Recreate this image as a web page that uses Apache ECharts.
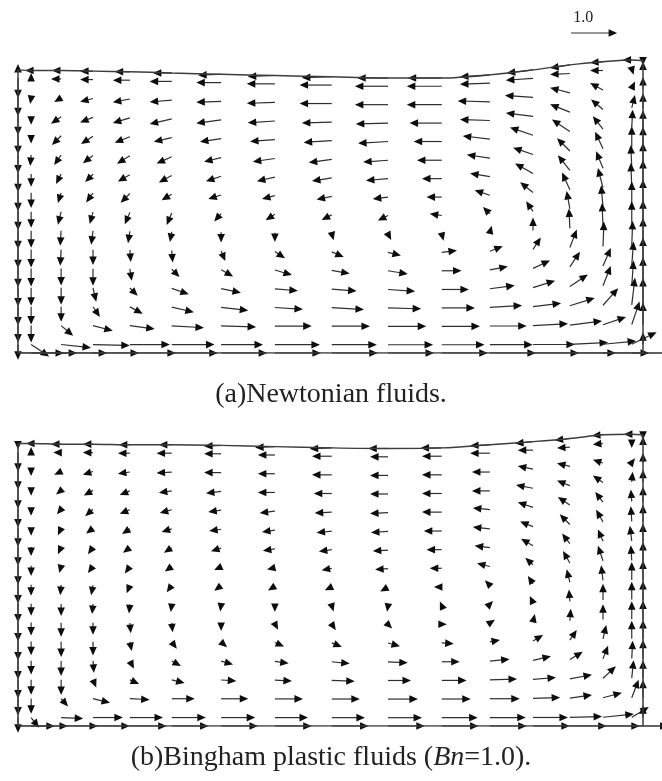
<!DOCTYPE html>
<html>
<head>
<meta charset="utf-8">
<title>Velocity vectors in a free-surface cavity</title>
<script src="https://cdn.jsdelivr.net/npm/echarts@6/dist/echarts.min.js"></script>
<style>
  html, body { margin: 0; padding: 0; background: #ffffff; }
  #chart { width: 662px; height: 781px; }
</style>
</head>
<body>
<div id="chart"></div>
<script>
// Mesh columns (x, cavity width = 1) and sigma levels (fraction of local depth), top to bottom
const xNodes = [0, 0.021, 0.069, 0.12, 0.179, 0.246, 0.325, 0.411, 0.502, 0.592, 0.678, 0.755, 0.824, 0.883, 0.936, 0.982, 1];
const sigmaLevels = [1, 0.97, 0.903, 0.836, 0.769, 0.701, 0.634, 0.567, 0.5, 0.433, 0.366, 0.299, 0.231, 0.164, 0.097, 0.03, 0];

// Free-surface height at each column
const surfaceNewtonian = [0.453, 0.452, 0.452, 0.451, 0.450, 0.448, 0.446, 0.444, 0.442, 0.440, 0.440, 0.445, 0.453, 0.461, 0.466, 0.469, 0.468];
const surfaceBingham   = [0.452, 0.452, 0.451, 0.451, 0.450, 0.450, 0.449, 0.447, 0.445, 0.444, 0.445, 0.450, 0.455, 0.460, 0.466, 0.467, 0.466];

// (a) Newtonian: horizontal velocity u, rows from free surface down to the bottom
const uNewtonian = [
  [0, -0.13, -0.2, -0.28, -0.33, -0.41, -0.5, -0.59, -0.65, -0.67, -0.74, -0.65, -0.57, -0.43, -0.28, -0.2, 0],
  [0, 0, -0.22, -0.28, -0.37, -0.48, -0.54, -0.61, -0.7, -0.72, -0.76, -0.65, -0.59, -0.43, -0.28, 0.04, 0],
  [0, -0.02, -0.15, -0.28, -0.37, -0.48, -0.54, -0.61, -0.7, -0.72, -0.76, -0.7, -0.61, -0.43, -0.28, 0.07, 0],
  [0, 0, -0.22, -0.28, -0.37, -0.48, -0.54, -0.59, -0.65, -0.7, -0.7, -0.65, -0.59, -0.43, -0.26, 0.07, 0],
  [0, 0, -0.2, -0.26, -0.33, -0.39, -0.46, -0.54, -0.61, -0.65, -0.61, -0.59, -0.5, -0.39, -0.22, 0.02, 0],
  [0, -0.02, -0.15, -0.22, -0.28, -0.33, -0.37, -0.48, -0.5, -0.54, -0.54, -0.5, -0.43, -0.28, -0.17, 0, 0],
  [0, 0, -0.11, -0.17, -0.26, -0.28, -0.33, -0.39, -0.43, -0.48, -0.43, -0.43, -0.39, -0.26, -0.15, -0.02, 0],
  [0, 0, -0.07, -0.15, -0.2, -0.22, -0.28, -0.28, -0.33, -0.33, -0.33, -0.33, -0.28, -0.17, -0.11, -0.02, 0],
  [0, 0, -0.07, -0.07, -0.11, -0.11, -0.15, -0.2, -0.22, -0.22, -0.26, -0.15, -0.15, -0.07, -0.04, 0, 0],
  [0, 0, -0.02, -0.04, -0.04, -0.04, 0, 0, 0.04, 0.07, 0.04, 0.04, 0, -0.02, -0.02, 0, 0],
  [0, 0, -0.02, 0, 0.02, 0.02, 0.09, 0.22, 0.26, 0.28, 0.33, 0.28, 0.17, 0.15, 0.02, 0.02, 0],
  [0, 0, 0, 0, 0.04, 0.17, 0.26, 0.37, 0.39, 0.43, 0.43, 0.39, 0.37, 0.22, 0.17, 0.04, 0],
  [0, 0, 0, 0.07, 0.17, 0.37, 0.43, 0.5, 0.54, 0.59, 0.59, 0.54, 0.48, 0.39, 0.17, 0.04, 0],
  [0, 0, 0, 0.15, 0.28, 0.48, 0.59, 0.61, 0.7, 0.72, 0.72, 0.7, 0.61, 0.54, 0.33, 0.07, 0],
  [0, 0, 0.26, 0.43, 0.54, 0.7, 0.76, 0.8, 0.83, 0.83, 0.83, 0.8, 0.76, 0.7, 0.5, 0.17, 0],
  [0, 0.39, 0.65, 0.8, 0.87, 0.93, 0.91, 0.98, 0.98, 0.98, 0.93, 0.93, 0.91, 0.83, 0.72, 0.54, 0],
  [1, 1, 1, 1, 1, 1, 1, 1, 1, 1, 1, 1, 1, 1, 1, 1, 1]
];
// (a) Newtonian: vertical velocity v
const vNewtonian = [
  [0.13, 0, 0, 0, 0, 0, -0.02, -0.02, -0.02, 0, 0, -0.04, -0.07, -0.07, -0.02, 0, -0.11],
  [-0.43, 0.13, 0, 0, 0, 0, 0, 0, 0, 0, 0, -0.02, -0.04, -0.02, 0, -0.13, 0.17],
  [-0.41, -0.13, -0.09, -0.07, -0.07, -0.04, -0.02, -0.02, 0, 0, 0, 0.02, 0.04, 0.11, 0.15, 0.15, 0.26],
  [-0.41, -0.17, -0.15, -0.11, -0.11, -0.11, -0.07, -0.04, -0.02, -0.02, 0, 0.02, 0.07, 0.17, 0.22, 0.28, 0.33],
  [-0.41, -0.17, -0.2, -0.17, -0.13, -0.09, -0.07, -0.04, -0.04, -0.04, 0, 0.07, 0.17, 0.26, 0.28, 0.39, 0.39],
  [-0.41, -0.24, -0.22, -0.17, -0.17, -0.15, -0.09, -0.07, -0.07, -0.04, 0, 0.07, 0.15, 0.28, 0.37, 0.46, 0.46],
  [-0.41, -0.28, -0.22, -0.17, -0.15, -0.15, -0.11, -0.09, -0.07, -0.04, 0, 0.07, 0.22, 0.33, 0.37, 0.48, 0.54],
  [-0.41, -0.33, -0.22, -0.2, -0.2, -0.13, -0.09, -0.07, -0.07, -0.04, 0, 0.11, 0.22, 0.37, 0.43, 0.52, 0.59],
  [-0.41, -0.35, -0.28, -0.26, -0.26, -0.26, -0.17, -0.13, -0.11, -0.11, 0.04, 0.15, 0.22, 0.39, 0.48, 0.54, 0.59],
  [-0.41, -0.37, -0.33, -0.3, -0.26, -0.22, -0.22, -0.2, -0.15, -0.13, -0.15, 0.15, 0.28, 0.43, 0.52, 0.54, 0.57],
  [-0.41, -0.39, -0.35, -0.33, -0.26, -0.26, -0.22, -0.15, -0.11, -0.07, 0.04, 0.11, 0.26, 0.39, 0.54, 0.54, 0.61],
  [-0.41, -0.39, -0.37, -0.37, -0.26, -0.17, -0.15, -0.11, -0.07, -0.07, 0, 0.07, 0.17, 0.33, 0.39, 0.52, 0.61],
  [-0.41, -0.39, -0.37, -0.3, -0.17, -0.13, -0.09, -0.04, -0.04, -0.04, 0, 0.07, 0.15, 0.26, 0.43, 0.54, 0.61],
  [-0.41, -0.39, -0.33, -0.22, -0.15, -0.11, -0.07, -0.04, -0.04, -0.02, 0, 0.04, 0.07, 0.17, 0.37, 0.59, 0.59],
  [-0.37, -0.37, -0.22, -0.11, -0.07, -0.04, -0.02, 0, 0, 0, 0, 0, 0.04, 0.09, 0.17, 0.5, 0.48],
  [-0.33, -0.26, -0.07, -0.02, 0, 0, 0, 0, 0, 0, 0, 0, 0, 0.04, 0.07, 0.26, 0.26],
  [0, 0, 0, 0, 0, 0, 0, 0, 0, 0, 0, 0, 0, 0, 0, 0, 0]
];

// (b) Bingham plastic, Bn = 1.0: horizontal velocity u
const uBingham = [
  [0, -0.11, -0.22, -0.22, -0.24, -0.28, -0.37, -0.43, -0.48, -0.43, -0.46, -0.43, -0.39, -0.33, -0.24, -0.17, 0],
  [0, 0, -0.17, -0.22, -0.26, -0.33, -0.37, -0.37, -0.43, -0.39, -0.43, -0.43, -0.33, -0.28, -0.22, 0, 0],
  [0, 0, -0.15, -0.22, -0.26, -0.33, -0.37, -0.37, -0.43, -0.39, -0.43, -0.39, -0.33, -0.28, -0.22, 0.07, 0],
  [0, 0, -0.11, -0.2, -0.22, -0.28, -0.33, -0.37, -0.39, -0.39, -0.43, -0.39, -0.37, -0.28, -0.22, 0.02, 0],
  [0, 0, -0.09, -0.17, -0.22, -0.26, -0.28, -0.33, -0.37, -0.39, -0.43, -0.37, -0.33, -0.26, -0.17, -0.02, 0],
  [0, 0, -0.07, -0.15, -0.17, -0.22, -0.26, -0.28, -0.33, -0.37, -0.39, -0.37, -0.28, -0.22, -0.15, -0.02, 0],
  [0, 0, -0.07, -0.11, -0.15, -0.17, -0.22, -0.26, -0.28, -0.33, -0.33, -0.33, -0.26, -0.17, -0.11, -0.04, 0],
  [0, 0, -0.04, -0.11, -0.11, -0.15, -0.15, -0.17, -0.22, -0.28, -0.26, -0.28, -0.17, -0.15, -0.11, -0.02, 0],
  [0, 0, -0.02, -0.04, -0.07, -0.11, -0.15, -0.15, -0.15, -0.17, -0.17, -0.11, -0.11, -0.07, -0.04, 0, 0],
  [0, 0, 0, -0.02, -0.02, -0.02, -0.02, 0, 0.04, -0.02, -0.04, 0.07, -0.07, -0.02, 0, 0, 0],
  [0, 0, 0, 0, 0.02, 0.02, 0, 0.07, 0.09, 0.09, 0.11, 0.11, 0.04, 0.02, 0, 0, 0],
  [0, 0, 0, 0, 0.04, 0.11, 0.13, 0.2, 0.22, 0.26, 0.26, 0.22, 0.22, 0.15, 0.07, 0, 0],
  [0, 0, 0, 0.02, 0.09, 0.2, 0.26, 0.3, 0.39, 0.43, 0.39, 0.43, 0.39, 0.28, 0.11, 0.02, 0],
  [0, 0, 0, 0.07, 0.2, 0.28, 0.33, 0.37, 0.5, 0.5, 0.54, 0.59, 0.5, 0.48, 0.28, 0.04, 0],
  [0, 0, 0.15, 0.37, 0.43, 0.5, 0.59, 0.61, 0.61, 0.65, 0.63, 0.65, 0.59, 0.48, 0.41, 0.15, 0],
  [0, 0.17, 0.48, 0.65, 0.72, 0.74, 0.74, 0.72, 0.72, 0.74, 0.78, 0.78, 0.76, 0.7, 0.67, 0.37, 0],
  [0.8, 0.8, 0.8, 0.8, 0.8, 0.8, 0.8, 0.8, 0.8, 0.8, 0.8, 0.8, 0.8, 0.8, 0.8, 0.8, 0.8]
];
// (b) Bingham plastic, Bn = 1.0: vertical velocity v
const vBingham = [
  [-0.13, 0, 0, 0, 0, 0, -0.02, -0.02, -0.02, 0, 0, -0.02, -0.04, -0.04, -0.02, 0, -0.11],
  [-0.43, 0.11, 0, 0, 0, 0, 0, 0, 0, 0, 0, 0, 0, -0.02, -0.02, -0.11, 0.15],
  [-0.41, -0.11, -0.07, -0.07, -0.04, -0.02, 0, 0, 0, 0, 0, 0, 0.07, 0.07, 0.07, 0.09, 0.22],
  [-0.41, -0.13, -0.09, -0.11, -0.09, -0.04, -0.04, 0, 0, 0, 0, 0, 0.07, 0.11, 0.15, 0.22, 0.28],
  [-0.41, -0.15, -0.11, -0.15, -0.09, -0.07, -0.04, -0.04, -0.02, -0.02, 0, 0.04, 0.11, 0.17, 0.22, 0.26, 0.33],
  [-0.41, -0.17, -0.15, -0.11, -0.11, -0.07, -0.04, -0.04, -0.04, -0.02, 0, 0.04, 0.11, 0.22, 0.26, 0.33, 0.37],
  [-0.41, -0.2, -0.15, -0.15, -0.11, -0.11, -0.07, -0.04, -0.04, -0.02, 0, 0.04, 0.15, 0.22, 0.26, 0.33, 0.39],
  [-0.41, -0.22, -0.15, -0.15, -0.15, -0.11, -0.07, -0.04, -0.04, -0.02, 0, 0.07, 0.15, 0.26, 0.33, 0.33, 0.41],
  [-0.41, -0.24, -0.22, -0.22, -0.17, -0.15, -0.11, -0.09, -0.07, -0.09, 0, 0.11, 0.17, 0.28, 0.33, 0.39, 0.43],
  [-0.41, -0.26, -0.26, -0.22, -0.2, -0.17, -0.15, -0.15, -0.13, -0.13, 0.09, 0.07, 0.15, 0.26, 0.35, 0.39, 0.41],
  [-0.41, -0.28, -0.3, -0.26, -0.22, -0.2, -0.17, -0.13, -0.13, -0.09, 0, 0.07, 0.17, 0.26, 0.33, 0.39, 0.41],
  [-0.41, -0.3, -0.33, -0.3, -0.2, -0.15, -0.11, -0.09, -0.09, -0.07, -0.02, 0.04, 0.13, 0.22, 0.3, 0.39, 0.41],
  [-0.41, -0.3, -0.33, -0.26, -0.17, -0.11, -0.07, -0.04, -0.04, -0.02, 0, 0.04, 0.09, 0.17, 0.28, 0.39, 0.41],
  [-0.41, -0.33, -0.33, -0.17, -0.09, -0.07, -0.02, -0.02, -0.02, 0, 0, 0.02, 0.04, 0.09, 0.26, 0.39, 0.39],
  [-0.37, -0.33, -0.17, -0.09, -0.02, 0, 0, 0, 0, 0, 0, 0, 0.02, 0.07, 0.11, 0.39, 0.39],
  [-0.33, -0.22, -0.02, 0, 0, 0, 0, 0, 0, 0, 0, 0, 0, 0.02, 0.07, 0.22, 0.26],
  [0, 0, 0, 0, 0, 0, 0, 0, 0, 0, 0, 0, 0, 0, 0, 0, 0]
];

// Reference vector shown above panel (a)
const referenceVector = { label: '1.0', magnitude: 1.0 };
const captionA = '(a)Newtonian fluids.';
const captionB = ['(b)Bingham plastic fluids (', 'Bn', '=1.0).'];

// Length of a unit velocity vector in x/y data units
const VEC_SCALE = 0.0736;

function buildField(surface, U, V) {
  const out = [];
  for (let r = 0; r < sigmaLevels.length; r++) {
    for (let c = 0; c < xNodes.length; c++) {
      out.push([xNodes[c], sigmaLevels[r] * surface[c], U[r][c], V[r][c]]);
    }
  }
  return out;
}

function surfaceLine(surface) {
  return xNodes.map((x, i) => [x, surface[i]]);
}

function wallLine(surface) {
  return [[0, surface[0]], [0, 0], [1, 0], [1, surface[surface.length - 1]]];
}

function renderArrow(params, api) {
  const x = api.value(0), y = api.value(1), u = api.value(2), v = api.value(3);
  const p0 = api.coord([x, y]);
  const p1 = api.coord([x + u * VEC_SCALE, y + v * VEC_SCALE]);
  const dx = p1[0] - p0[0], dy = p1[1] - p0[1];
  const len = Math.sqrt(dx * dx + dy * dy);
  if (len < 0.5) return null;
  const ex = dx / len, ey = dy / len;
  const headLen = 8.5, headHalf = 3.8;
  const bx = p1[0] - ex * headLen, by = p1[1] - ey * headLen;
  return {
    type: 'group',
    children: [
      {
        type: 'line',
        shape: { x1: p0[0], y1: p0[1], x2: p1[0] - ex * 3, y2: p1[1] - ey * 3 },
        style: { stroke: '#2e2e2e', lineWidth: 1.2 }
      },
      {
        type: 'polygon',
        shape: { points: [[p1[0], p1[1]], [bx - ey * headHalf, by + ex * headHalf], [bx + ey * headHalf, by - ex * headHalf]] },
        style: { fill: '#0d0d0d' }
      }
    ]
  };
}

function renderReference(params, api) {
  const item = renderArrow(params, api);
  const p0 = api.coord([api.value(0), api.value(1)]);
  item.children.push({
    type: 'text',
    style: {
      text: referenceVector.label,
      x: p0[0] + 12,
      y: p0[1] - 15,
      align: 'center',
      verticalAlign: 'middle',
      fontFamily: '"Liberation Serif", serif',
      fontSize: 16,
      fill: '#222'
    }
  });
  return item;
}

const chart = echarts.init(document.getElementById('chart'), null, { renderer: 'canvas' });

const axisCommon = { show: false, splitLine: { show: false } };
const boundaryStyle = { color: '#3c3c3c', width: 1.5 };

chart.setOption({
  animation: false,
  backgroundColor: '#ffffff',
  grid: [
    { left: 18, top: 3, width: 625, height: 350 },
    { left: 18, top: 376, width: 625, height: 350 }
  ],
  xAxis: [
    Object.assign({ type: 'value', min: 0, max: 1, gridIndex: 0 }, axisCommon),
    Object.assign({ type: 'value', min: 0, max: 1, gridIndex: 1 }, axisCommon)
  ],
  yAxis: [
    Object.assign({ type: 'value', min: 0, max: 0.56, gridIndex: 0 }, axisCommon),
    Object.assign({ type: 'value', min: 0, max: 0.56, gridIndex: 1 }, axisCommon)
  ],
  series: [
    { type: 'line', xAxisIndex: 0, yAxisIndex: 0, data: wallLine(surfaceNewtonian), symbol: 'none', lineStyle: boundaryStyle, silent: true },
    { type: 'line', xAxisIndex: 0, yAxisIndex: 0, data: surfaceLine(surfaceNewtonian), symbol: 'none', smooth: 0.3, lineStyle: boundaryStyle, silent: true },
    { type: 'custom', xAxisIndex: 0, yAxisIndex: 0, data: buildField(surfaceNewtonian, uNewtonian, vNewtonian), renderItem: renderArrow, encode: { x: 0, y: 1 }, clip: false, silent: true },
    { type: 'custom', xAxisIndex: 0, yAxisIndex: 0, data: [[0.885, 0.512, referenceVector.magnitude, 0]], renderItem: renderReference, encode: { x: 0, y: 1 }, clip: false, silent: true },
    { type: 'line', xAxisIndex: 1, yAxisIndex: 1, data: wallLine(surfaceBingham), symbol: 'none', lineStyle: boundaryStyle, silent: true },
    { type: 'line', xAxisIndex: 1, yAxisIndex: 1, data: surfaceLine(surfaceBingham), symbol: 'none', smooth: 0.3, lineStyle: boundaryStyle, silent: true },
    { type: 'custom', xAxisIndex: 1, yAxisIndex: 1, data: buildField(surfaceBingham, uBingham, vBingham), renderItem: renderArrow, encode: { x: 0, y: 1 }, clip: false, silent: true }
  ],
  graphic: [
    {
      type: 'text', left: 'center', top: 381,
      style: { text: captionA, fontFamily: '"Liberation Serif", serif', fontSize: 28, fill: '#222' }
    },
    {
      type: 'text', left: 'center', top: 744,
      style: {
        text: '{n|' + captionB[0] + '}{i|' + captionB[1] + '}{n|' + captionB[2] + '}',
        rich: {
          n: { fontFamily: '"Liberation Serif", serif', fontSize: 28, fill: '#222' },
          i: { fontFamily: '"Liberation Serif", serif', fontSize: 28, fontStyle: 'italic', fill: '#222' }
        }
      }
    }
  ]
});
</script>
</body>
</html>
